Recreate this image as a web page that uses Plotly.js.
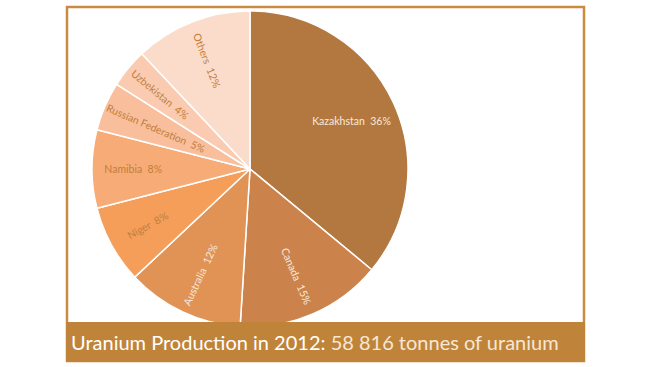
<!DOCTYPE html>
<html>
<head>
<meta charset="utf-8">
<script src="https://cdn.plot.ly/plotly-3.0.1.min.js"></script>
<style>
  html, body { margin: 0; padding: 0; background: #ffffff; }
  #chart { width: 653px; height: 367px; }
</style>
</head>
<body>
<div id="chart"></div>
<script>
// Data (percent share of 2012 uranium production)
const countries = ["Kazakhstan", "Canada", "Australia", "Niger", "Namibia", "Russian Federation", "Uzbekistan", "Others"];
const shares = [36, 15, 12, 8, 8, 5, 4, 12];
const sliceColors = ["#B37840", "#CB834B", "#E09354", "#F49E5A", "#F7AC78", "#F9BE9C", "#FACBB1", "#FBDCCB"];
const labelColors = ["#F6E9DC", "#F6E9DC", "#F6E9DC", "#C27E3A", "#C27E3A", "#C27E3A", "#C27E3A", "#C27E3A"];
const titleMain = "Uranium Production in 2012:";
const titleSub = "58 816 tonnes of uranium";

const W = 653, H = 367;
const cx = 250, cy = 169, r = 158;
const dom = {
  x: [(cx - r) / W, (cx + r) / W],
  y: [(H - (cy + r)) / H, (H - (cy - r)) / H]
};
const labelFont = "Lato, 'Open Sans', sans-serif";
const clear = countries.map(() => "rgba(0,0,0,0)");
const tpl = "%{label}  %{value}%";

const base = {
  type: "pie",
  labels: countries,
  values: shares,
  sort: false,
  direction: "clockwise",
  rotation: 0,
  domain: dom,
  textposition: "inside",
  hoverinfo: "none",
  showlegend: false
};

// slices
const slices = Object.assign({}, base, {
  marker: { colors: sliceColors, line: { color: "#ffffff", width: 1.5 } },
  textinfo: "none"
});

// text layer builder: invisible copy of the pie that only carries labels
function labelLayer(show, hole, orientation) {
  return Object.assign({}, base, {
    hole: hole,
    marker: { colors: clear, line: { width: 0 } },
    texttemplate: countries.map(c => show.includes(c) ? tpl : ""),
    insidetextorientation: orientation,
    textfont: { family: labelFont, size: 10.5, color: labelColors }
  });
}

const radialMain = labelLayer(["Canada", "Australia", "Niger", "Namibia", "Uzbekistan", "Others"], 0.48, "radial");
const radialThin = labelLayer(["Russian Federation"], 0.3, "radial");
const horizLabel = labelLayer(["Kazakhstan"], 0.42, "horizontal");

const layout = {
  width: W, height: H,
  margin: { l: 0, r: 0, t: 0, b: 0 },
  paper_bgcolor: "#ffffff",
  shapes: [
    { type: "rect", xref: "paper", yref: "paper", layer: "below",
      x0: 67 / W, x1: 584 / W, y0: (H - 361) / H, y1: (H - 7) / H,
      line: { color: "#C98A42", width: 2.5 }, fillcolor: "rgba(0,0,0,0)" },
    { type: "rect", xref: "paper", yref: "paper", layer: "above",
      x0: 66 / W, x1: 585 / W, y0: (H - 362) / H, y1: (H - 322) / H,
      line: { width: 0 }, fillcolor: "#BF843A" }
  ],
  annotations: [
    { xref: "paper", yref: "paper", x: 69 / W, y: (H - 342) / H,
      xanchor: "left", yanchor: "middle", showarrow: false,
      text: titleMain + " <span style='color:#F7E7D6'>" + titleSub + "</span>",
      font: { family: labelFont, size: 20, color: "#ffffff" } }
  ]
};

Plotly.newPlot("chart", [slices, radialMain, radialThin, horizLabel], layout, { displayModeBar: false, staticPlot: true });
</script>
</body>
</html>
